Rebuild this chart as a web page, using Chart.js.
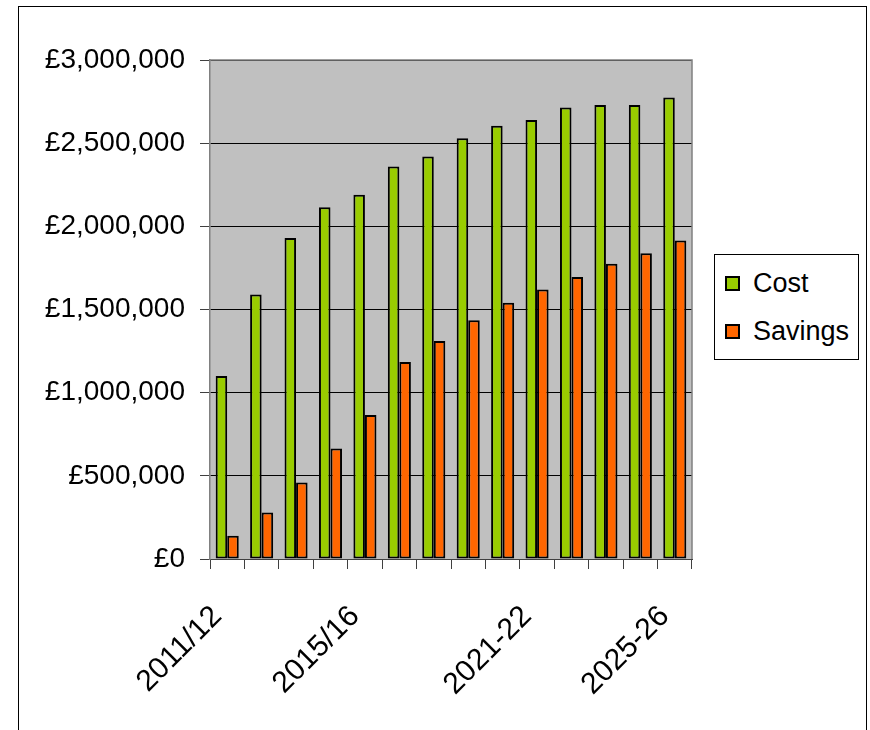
<!DOCTYPE html>
<html>
<head>
<meta charset="utf-8">
<title>Cost and Savings</title>
<script src="https://cdn.jsdelivr.net/npm/chart.js@4.4.0/dist/chart.umd.min.js"></script>
<style>
    body { margin: 0; background: #fff; }
    #wrap { position: relative; width: 870px; height: 730px; overflow: hidden; }
    #frame { position: absolute; left: 18px; top: 6px; width: 847px; height: 780px; border: 1px solid #000; }
    #costChart { position: absolute; left: 0; top: 0; }
    #legend {
        position: absolute; left: 714px; top: 254px; width: 145px; height: 106px;
        box-sizing: border-box; border: 1px solid #000; background: #fff;
        font-family: 'Liberation Sans', Arial, sans-serif; font-size: 27px; color: #000;
    }
    #legend .item { position: absolute; left: 10px; height: 31px; line-height: 31px; display: flex; align-items: center; }
    #legend .swatch { width: 15px; height: 15px; box-sizing: border-box; border: 2px solid #000; margin-right: 13px; }
</style>
</head>
<body>
<div id="wrap">
    <div id="frame"></div>
    <canvas id="costChart" width="870" height="730"></canvas>
    <div id="legend"></div>
</div>
<script>
// --- Data ---
const years = ['2011/12', '', '', '', '2015/16', '', '', '', '', '2021-22', '', '', '', '2025-26'];
const cost = [1100000, 1590000, 1930000, 2115000, 2190000, 2360000, 2420000, 2530000, 2605000, 2640000, 2715000, 2730000, 2730000, 2775000];
const savings = [140000, 280000, 460000, 665000, 865000, 1185000, 1310000, 1435000, 1540000, 1620000, 1695000, 1775000, 1838000, 1915000];

const FONT = "'Liberation Sans', Arial, sans-serif";

// grey plot area with a thin frame, like the old spreadsheet charts
const plotArea = {
    id: 'plotArea',
    beforeDraw(chart) {
        const { ctx, chartArea: a } = chart;
        ctx.save();
        ctx.fillStyle = '#c0c0c0';
        ctx.fillRect(a.left, a.top, a.right - a.left, a.bottom - a.top);
        ctx.restore();
    },
    afterDraw(chart) {
        const { ctx, chartArea: a } = chart;
        ctx.save();
        ctx.strokeStyle = '#808080';
        ctx.lineWidth = 1.5;
        ctx.beginPath();
        ctx.moveTo(a.left, a.top);
        ctx.lineTo(a.right, a.top);
        ctx.lineTo(a.right, a.bottom);
        ctx.stroke();
        ctx.restore();
    }
};

function formatPounds(v) {
    return '£' + Number(v).toLocaleString('en-GB');
}

const chart = new Chart(document.getElementById('costChart'), {
    type: 'bar',
    data: {
        labels: years,
        datasets: [
            { label: 'Cost', data: cost, backgroundColor: '#99cc00' },
            { label: 'Savings', data: savings, backgroundColor: '#ff6600' }
        ]
    },
    options: {
        responsive: false,
        animation: false,
        layout: { padding: { top: 60, left: 0, right: 178, bottom: 0 } },
        datasets: {
            bar: {
                borderColor: '#000',
                borderWidth: 2,
                borderSkipped: false,
                categoryPercentage: 0.67,
                barPercentage: 1.0
            }
        },
        plugins: {
            legend: { display: false },
            tooltip: { enabled: false }
        },
        scales: {
            x: {
                grid: { drawOnChartArea: false, tickLength: 10, tickColor: '#404040' },
                border: { color: '#404040', width: 1 },
                ticks: {
                    autoSkip: false, minRotation: 45, maxRotation: 45, padding: 30, labelOffset: -10,
                    color: '#000', font: { family: FONT, size: 30 }
                },
                afterFit(scale) { scale.height = 171; }
            },
            y: {
                min: 0,
                max: 3000000,
                grid: { color: '#000', tickLength: 10, tickColor: '#404040' },
                border: { color: '#808080', width: 1.5 },
                ticks: {
                    stepSize: 500000, padding: 15,
                    color: '#000', font: { family: FONT, size: 28 },
                    callback: v => formatPounds(v)
                },
                afterFit(scale) { scale.width = 210; }
            }
        }
    },
    plugins: [plotArea]
});

// --- Legend ---
function buildLegend() {
    const box = document.getElementById('legend');
    chart.data.datasets.forEach((ds, i) => {
        const item = document.createElement('div');
        item.className = 'item';
        item.style.top = (13 + i * 48) + 'px';
        const sw = document.createElement('span');
        sw.className = 'swatch';
        sw.style.background = ds.backgroundColor;
        const txt = document.createElement('span');
        txt.textContent = ds.label;
        item.appendChild(sw);
        item.appendChild(txt);
        box.appendChild(item);
    });
}
buildLegend();
</script>
</body>
</html>
